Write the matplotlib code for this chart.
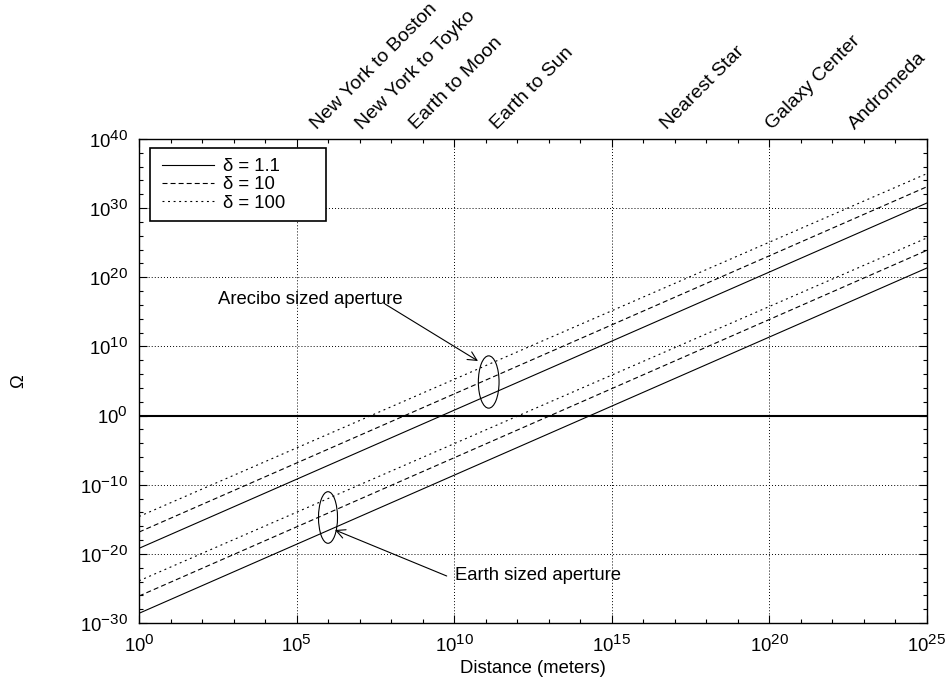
import numpy as np
import matplotlib
matplotlib.use("Agg")
import matplotlib.pyplot as plt
from matplotlib.ticker import FixedLocator, FuncFormatter, NullFormatter
from matplotlib.patches import Ellipse, Rectangle
import matplotlib.transforms as mtransforms

try:
    import matplotlib._mathtext as _mt
    _mt.SHRINK_FACTOR = 0.82
except Exception:
    pass

plt.rcParams['font.family'] = ['Liberation Sans', 'DejaVu Sans']
plt.rcParams['mathtext.fontset'] = 'custom'
plt.rcParams['mathtext.rm'] = 'Liberation Sans'
plt.rcParams['mathtext.it'] = 'Liberation Sans'
plt.rcParams['mathtext.bf'] = 'Liberation Sans'
plt.rcParams['mathtext.default'] = 'regular'
plt.rcParams['lines.scale_dashes'] = False

# ---- data ----
distance_m = [1e0, 1e25]

arecibo_delta_1_1 = [10**-19.2, 10**30.75]
arecibo_delta_10 = [10**-16.85, 10**33.1]
arecibo_delta_100 = [10**-14.6, 10**35.0]

earth_delta_1_1 = [10**-28.6, 10**21.35]
earth_delta_10 = [10**-26.1, 10**23.9]
earth_delta_100 = [10**-23.9, 10**25.7]

omega_unity = 1.0

delta_labels = ['δ = 1.1', 'δ = 10', 'δ = 100']

landmark_names = ['New York to Boston', 'New York to Toyko', 'Earth to Moon',
                  'Earth to Sun', 'Nearest Star', 'Galaxy Center', 'Andromeda']
landmark_dist = [4.5e5, 1.2e7, 6.0e8, 2.3e11, 5.8e16, 1.2e20, 5.2e22]

x_major_exp = np.arange(0, 26, 5)
x_minor_exp = np.arange(0, 26, 1)
y_major_exp = np.arange(-30, 41, 10)
y_minor_exp = np.arange(-30, 41, 2)

FS = 13.3
W, H = 948, 686
L, R, T, B = 139, 927, 139, 623

fig = plt.figure(figsize=(W / 100, H / 100), dpi=100)
ax = fig.add_axes([L / W, 1 - B / H, (R - L) / W, (B - T) / H])
ax.set_xscale('log')
ax.set_yscale('log')
ax.set_xlim(distance_m[0], distance_m[-1])
ax.set_ylim(10.0**y_major_exp[0], 10.0**y_major_exp[-1])

ax.xaxis.set_major_locator(FixedLocator(10.0**x_major_exp))
ax.xaxis.set_minor_locator(FixedLocator(10.0**x_minor_exp))
ax.yaxis.set_major_locator(FixedLocator(10.0**y_major_exp))
ax.yaxis.set_minor_locator(FixedLocator(10.0**y_minor_exp))
fmt = FuncFormatter(lambda v, p: r'$10^{%d}$' % int(round(np.log10(v))))
ax.xaxis.set_major_formatter(fmt)
ax.yaxis.set_major_formatter(fmt)
ax.xaxis.set_minor_formatter(NullFormatter())
ax.yaxis.set_minor_formatter(NullFormatter())

ax.tick_params(which='both', direction='in', top=True, right=True,
               color='black', width=0.8, labelsize=FS)
ax.tick_params(which='major', length=5.5)
ax.tick_params(which='minor', length=3)
ax.tick_params(axis='x', pad=8)
ax.tick_params(axis='y', pad=8)
for s in ax.spines.values():
    s.set_linewidth(1.0)

ax.grid(True, which='major', color='black', lw=0.7, linestyle=(0, (0.7, 1.5)))

dash = (0, (3.6, 2.2))
dot = (0, (1.4, 2.6))
lw = 0.8
h1, = ax.plot(distance_m, arecibo_delta_1_1, color='black', lw=lw, label=delta_labels[0])
h2, = ax.plot(distance_m, arecibo_delta_10, color='black', lw=lw, linestyle=dash, label=delta_labels[1])
h3, = ax.plot(distance_m, arecibo_delta_100, color='black', lw=lw, linestyle=dot, label=delta_labels[2])
ax.plot(distance_m, earth_delta_1_1, color='black', lw=lw)
ax.plot(distance_m, earth_delta_10, color='black', lw=lw, linestyle=dash)
ax.plot(distance_m, earth_delta_100, color='black', lw=lw, linestyle=dot)
ax.axhline(omega_unity, color='black', lw=1.5)


def fx(px):
    return (px - L) / (R - L)


def fy(py):
    return (B - py) / (B - T)


# legend box (white, opaque) and frameless legend inside it
ax.add_patch(Rectangle((fx(150), fy(221)), 176 / (R - L), 73 / (B - T),
                       transform=ax.transAxes, facecolor='white',
                       edgecolor='black', lw=1.2, zorder=4))
leg = ax.legend(handles=[h1, h2, h3], loc='upper left',
                bbox_to_anchor=(fx(162), fy(158)),
                borderaxespad=0, frameon=False,
                fontsize=FS, handlelength=2.81, handletextpad=0.47,
                labelspacing=0.07, borderpad=0)
leg.set_zorder(5)

# annotations
ax.text(fx(218), fy(299), 'Arecibo sized aperture', transform=ax.transAxes,
        ha='left', va='center', fontsize=FS)
ax.annotate('', xy=(fx(478), fy(361)), xytext=(fx(385), fy(304)),
            xycoords='axes fraction', textcoords='axes fraction',
            arrowprops=dict(arrowstyle='->', lw=0.8, color='black',
                            mutation_scale=16, shrinkA=0, shrinkB=0))
ax.add_patch(Ellipse((fx(488.7), fy(382)), 20.7 / (R - L), 52.3 / (B - T),
                     transform=ax.transAxes, fill=False, lw=0.8, color='black'))

ax.text(fx(455), fy(576), 'Earth sized aperture', transform=ax.transAxes,
        ha='left', va='center', fontsize=FS)
ax.annotate('', xy=(fx(335), fy(530)), xytext=(fx(446.7), fy(576)),
            xycoords='axes fraction', textcoords='axes fraction',
            arrowprops=dict(arrowstyle='->', lw=0.8, color='black',
                            mutation_scale=16, shrinkA=0, shrinkB=0))
ax.add_patch(Ellipse((fx(328), fy(517.5)), 19 / (R - L), 51.6 / (B - T),
                     transform=ax.transAxes, fill=False, lw=0.8, color='black'))

# landmark labels along top
trans = mtransforms.blended_transform_factory(ax.transData, ax.transAxes)
for name, d in zip(landmark_names, landmark_dist):
    ax.text(d, 1 + 9 / (B - T), name, transform=trans, rotation=45,
            rotation_mode='anchor', ha='left', va='baseline', fontsize=14)

ax.set_xlabel('Distance (meters)', fontsize=FS)
ax.xaxis.set_label_coords(0.5, -(660 - B) / (B - T))
ax.set_ylabel('Ω', fontsize=FS, va='center')
ax.yaxis.set_label_coords(-(L - 19) / (R - L), fy(381))

fig.savefig('out.png', dpi=100)
